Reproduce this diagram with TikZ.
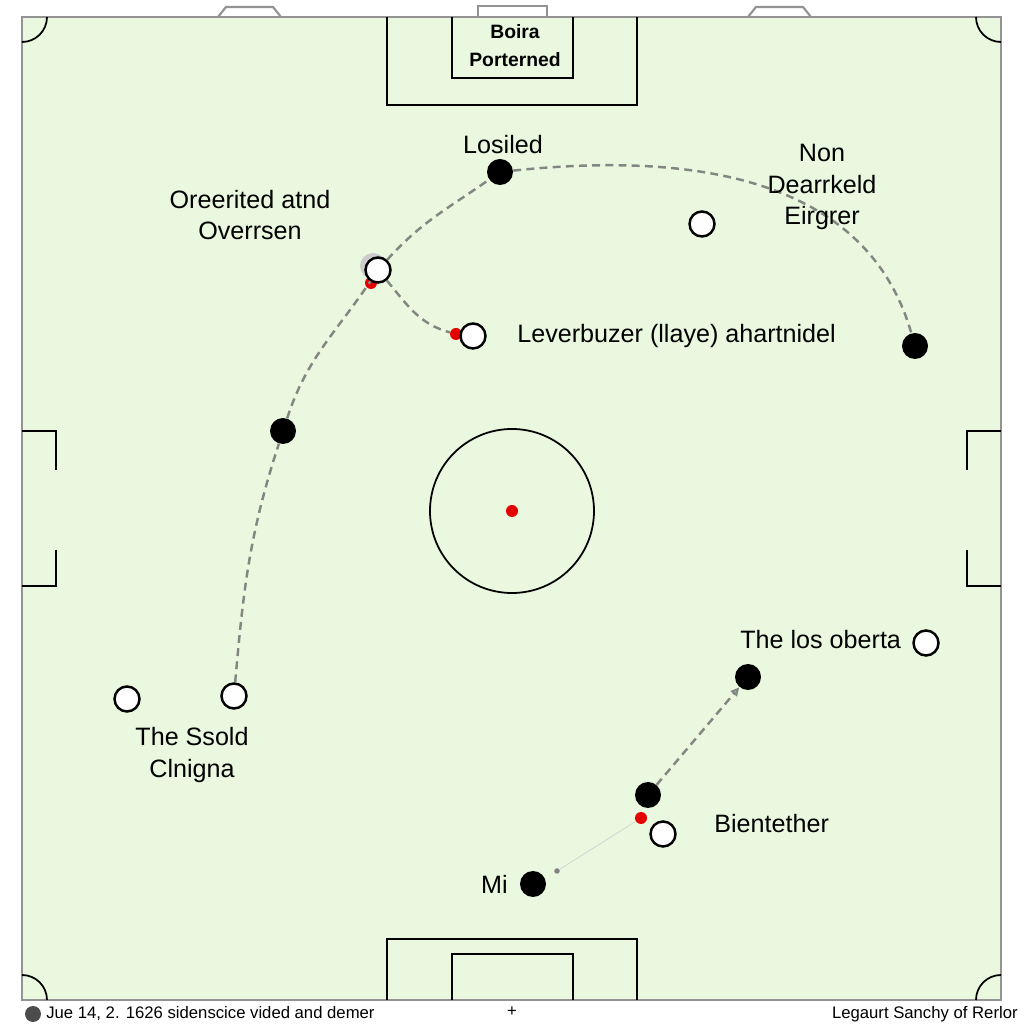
\documentclass[tikz,border=0pt]{standalone}
\usepackage{fontspec}
\setmainfont{Liberation Sans}
\usetikzlibrary{arrows.meta}
\definecolor{pitch}{RGB}{234,248,224}
\definecolor{runline}{RGB}{130,135,130}
\tikzset{
  mark line/.style={black, line width=1pt},
  edge line/.style={gray!85, line width=1.2pt},
  blk/.style={circle, fill=black, minimum size=5.2mm, inner sep=0pt},
  wht/.style={circle, fill=white, draw=black, line width=1.4pt, minimum size=5.0mm, inner sep=0pt},
  ball/.style={circle, fill=red!90!black, minimum size=2.4mm, inner sep=0pt},
  run/.style={runline, line width=1.4pt, dash pattern=on 4.5pt off 3pt},
  lbl/.style={font=\fontsize{14.3}{18}\selectfont, align=center, inner sep=0pt},
  foot/.style={font=\fontsize{9.5}{11}\selectfont, inner sep=0pt},
}
\begin{document}
\begin{tikzpicture}[x=0.2mm,y=0.2mm]
\useasboundingbox (0,0) rectangle (1024,1024);
\fill[white] (0,0) rectangle (1024,1024);
% pitch
\draw[edge line, fill=pitch] (22,24) rectangle (1001,1007);
\draw[edge line] (478,1007) -- (478,1018) -- (547,1018) -- (547,1007);
\foreach \x in {218,748}{
    \draw[edge line] (\x,1007) -- (\x+8,1017) -- (\x+55,1017) -- (\x+63,1007);
}
\draw[mark line] (387,1007) |- (637,919) -- (637,1007);
\draw[mark line] (452,1007) |- (573,946) -- (573,1007);
\draw[mark line] (387,24) |- (637,85) -- (637,24);
\draw[mark line] (452,24) |- (573,70) -- (573,24);
\draw[mark line] (22,593) -| (56,554);
\draw[mark line] (56,474) |- (22,438);
\draw[mark line] (1001,593) -| (967,554);
\draw[mark line] (967,474) |- (1001,438);
\draw[mark line] (22,982) arc[start angle=-90, end angle=0, radius=25];
\draw[mark line] (976,1007) arc[start angle=180, end angle=270, radius=25];
\draw[mark line] (22,49) arc[start angle=90, end angle=0, radius=25];
\draw[mark line] (976,24) arc[start angle=180, end angle=90, radius=25];
\draw[mark line] (512,513) circle[radius=82];

% players
\node[ball] (kick) at (512,513) {};
\foreach \n/\x/\y in {ore/371/741, lev/456/690, bie/641/206}{
    \node[ball] (r-\n) at (\x,\y) {};
}
\foreach \n/\x/\y in {los/500/852, wing/283/593, non/915/678, obe/748/347, bie/648/229, mi/533/140}{
    \node[blk] (b-\n) at (\x,\y) {};
}
\fill[gray!40] (373,758) circle[radius=13];
\foreach \n/\x/\y in {non/702/800, ore/378/754, lev/473/688, obe/926/381, ssl/127/325, ssr/234/328, bie/663/190}{
    \node[wht] (w-\n) at (\x,\y) {};
}
\node[circle, fill=gray, minimum size=1.1mm, inner sep=0pt] (spot) at (557,153) {};

% runs
\draw[run] (w-ssr) to[out=85, in=-108] (b-wing) to[out=72, in=-124] (w-ore)
    to[out=48, in=-145] (b-los) to[out=6, in=106] (b-non);
\draw[run] (w-ore) to[out=-50, in=165] (r-lev);
\draw[run, -{Triangle[open, length=5pt, width=4.5pt]}] (b-bie) -- (b-obe);
\draw[gray!35, line width=0.4pt] (spot) -- (r-bie);

% labels
\node[lbl, font=\bfseries\fontsize{11}{16}\selectfont] (goal) at (515,978) {Boira\\Porterned};
\node[lbl] (los) at (503,879) {Losiled};
\node[lbl] (non) at (822,837) {Non\\Dearrkeld\\Eirgrer};
\node[lbl] (ore) at (250,809) {Oreerited atnd\\Overrsen};
\node[lbl, anchor=west] (lev) at (517,688) {Leverbuzer (llaye) ahartnidel};
\node[lbl, anchor=west] (obe) at (740,384) {The los oberta};
\node[lbl] (ss) at (192,269) {The Ssold\\Clnigna};
\node[lbl, anchor=west] (bie) at (714,200) {Bientether};
\node[lbl, anchor=east] (mi) at (508,140) {Mi};

% footer
\fill[black!70] (33,10) circle[radius=8];
\node[foot, anchor=west] (foot l) at (46,10) {Jue 14, 2. 1626 sidenscice vided and demer};
\node[foot] (foot plus) at (512,12) {+};
\node[foot, anchor=east] (foot r) at (1018,10) {Legaurt Sanchy of Rerlor};
\end{tikzpicture}
\end{document}
